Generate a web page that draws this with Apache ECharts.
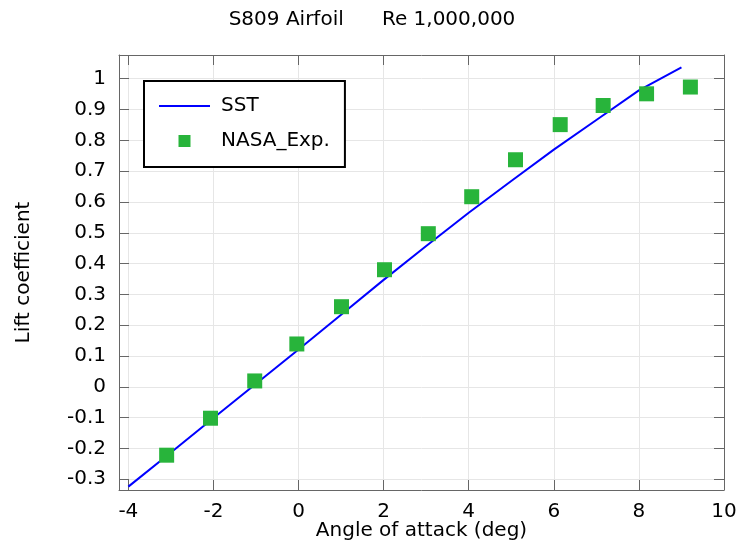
<!DOCTYPE html>
<html>
<head>
<meta charset="utf-8">
<title>S809 Airfoil</title>
<script src="https://cdn.jsdelivr.net/npm/echarts@6/dist/echarts.min.js"></script>
<style>
  html, body { margin: 0; padding: 0; background: #fff; }
  #chart { width: 736px; height: 546px; }
</style>
</head>
<body>
<div id="chart"></div>
<script>
// SST simulation curve
const sstAlpha = [-4, -3, -2, -1, 0, 1, 2, 3, 4, 5, 6, 7, 8, 9];
const sstCl = [-0.324, -0.213, -0.101, 0.010, 0.121, 0.234, 0.347, 0.457, 0.565, 0.668, 0.770, 0.866, 0.962, 1.037];

// NASA experiment points
const expAlpha = [-3.10, -2.07, -1.03, -0.04, 1.01, 2.02, 3.05, 4.07, 5.10, 6.15, 7.16, 8.18, 9.21];
const expCl = [-0.222, -0.102, 0.019, 0.139, 0.260, 0.380, 0.497, 0.617, 0.737, 0.851, 0.913, 0.951, 0.973];

// tick labels
const xTicks = [-4, -2, 0, 2, 4, 6, 8, 10];
const yTicks = [-0.3, -0.2, -0.1, 0, 0.1, 0.2, 0.3, 0.4, 0.5, 0.6, 0.7, 0.8, 0.9, 1];

const FONT = 'DejaVu Sans';
const frameColor = '#666';
const gridColor = '#e6e6e6';

const chart = echarts.init(document.getElementById('chart'), null, { renderer: 'canvas' });

const fmt = v => String(+(+v).toFixed(1));

// axis shared parts, inward ticks on all four sides
function xAxis(pos, withLabels) {
    return {
        type: 'value',
        position: pos,
        min: -4.22,
        max: 10,
        interval: 2,
        name: withLabels ? 'Angle of attack (deg)' : '',
        nameLocation: 'middle',
        nameGap: 31,
        nameMoveOverlap: false,
        nameTextStyle: { fontFamily: FONT, fontSize: 20, color: '#000' },
        axisLine: { show: true, onZero: false, lineStyle: { color: frameColor, width: 1 } },
        axisTick: { show: true, inside: true, length: 10, customValues: xTicks, lineStyle: { color: frameColor } },
        axisLabel: { show: withLabels, customValues: xTicks, margin: 12, fontFamily: FONT, fontSize: 20, color: '#000', formatter: fmt },
        splitLine: { show: withLabels, lineStyle: { color: gridColor, width: 1 } }
    };
}

function yAxis(pos, withLabels) {
    return {
        type: 'value',
        position: pos,
        min: -0.335,
        max: 1.077,
        interval: 0.1,
        name: withLabels ? 'Lift coefficient' : '',
        nameLocation: 'middle',
        nameGap: 85,
        nameTextStyle: { fontFamily: FONT, fontSize: 20, color: '#000' },
        axisLine: { show: true, onZero: false, lineStyle: { color: frameColor, width: 1 } },
        axisTick: { show: true, inside: true, length: 10, customValues: yTicks, lineStyle: { color: frameColor } },
        axisLabel: { show: withLabels, customValues: yTicks, margin: 13, fontFamily: FONT, fontSize: 20, color: '#000', formatter: fmt },
        splitLine: { show: withLabels, lineStyle: { color: gridColor, width: 1 } }
    };
}

const option = {
    animation: false,
    backgroundColor: '#fff',
    title: {
        text: 'S809 Airfoil      Re 1,000,000',
        left: 367,
        textAlign: 'center',
        top: 5,
        textStyle: { fontFamily: FONT, fontSize: 20, fontWeight: 'normal', color: '#000' }
    },
    // outerBoundsMode none: keep the plot box where it is even if "10" touches the edge
    grid: { left: 119, right: 12, top: 55, bottom: 56, containLabel: false, outerBoundsMode: 'none' },
    legend: {
        orient: 'vertical',
        left: 144,
        top: 81,
        padding: [15, 15, 16, 15],
        itemGap: 15,
        itemWidth: 51,
        itemHeight: 12,
        symbolKeepAspect: true,
        borderColor: '#000',
        borderWidth: 2,
        backgroundColor: '#fff',
        textStyle: { fontFamily: FONT, fontSize: 20, color: '#000', lineHeight: 20, padding: [0, 0, 0, 6] },
        data: [
            { name: 'SST', icon: 'path://M0,0H51V2H0Z' },
            { name: 'NASA_Exp.', icon: 'path://M0,0H10V10H0Z' }
        ]
    },
    xAxis: [xAxis('bottom', true), xAxis('top', false)],
    yAxis: [yAxis('left', true), yAxis('right', false)],
    series: [
        {
            name: 'SST',
            type: 'line',
            symbol: 'none',
            lineStyle: { color: '#0000ff', width: 2 },
            itemStyle: { color: '#0000ff' },
            data: sstAlpha.map((a, i) => [a, sstCl[i]]),
            z: 2
        },
        {
            name: 'NASA_Exp.',
            type: 'scatter',
            symbol: 'rect',
            symbolSize: 15,
            itemStyle: { color: '#28b43b', opacity: 1 },
            data: expAlpha.map((a, i) => [a, expCl[i]]),
            z: 3
        }
    ]
};

chart.setOption(option);
</script>
</body>
</html>
